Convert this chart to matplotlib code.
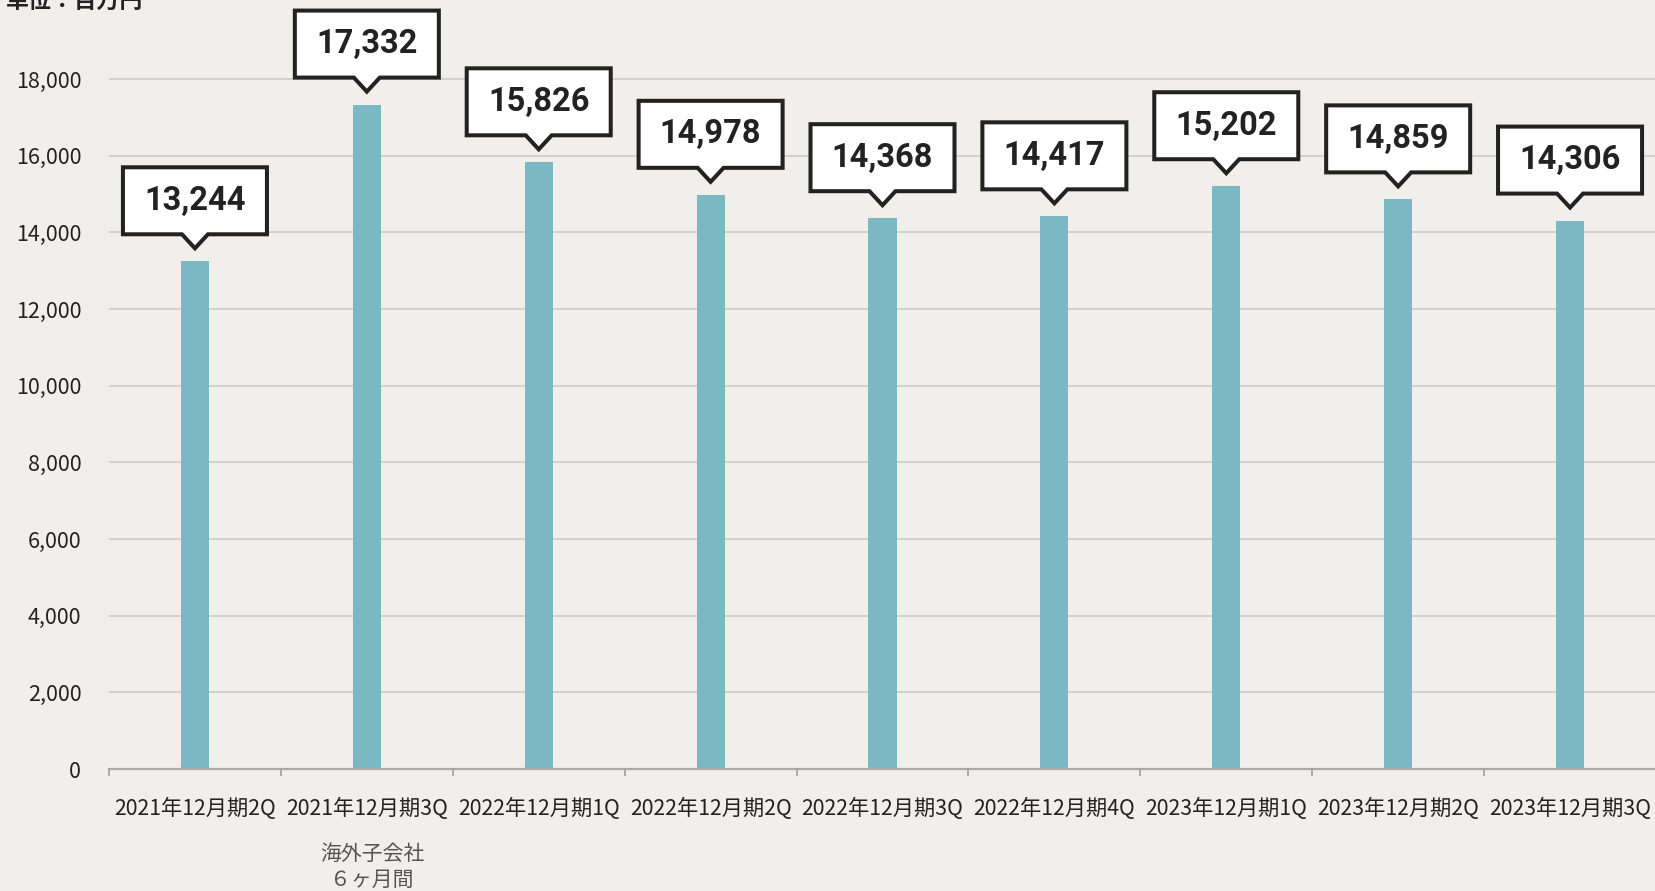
import matplotlib
matplotlib.use("Agg")
import matplotlib.pyplot as plt
from matplotlib.path import Path
from matplotlib.patches import PathPatch
import matplotlib.transforms as mtransforms

categories = ["2021年12月期2Q", "2021年12月期3Q", "2022年12月期1Q", "2022年12月期2Q",
              "2022年12月期3Q", "2022年12月期4Q", "2023年12月期1Q", "2023年12月期2Q",
              "2023年12月期3Q"]
values = [13244, 17332, 15826, 14978, 14368, 14417, 15202, 14859, 14306]
yticks = [0, 2000, 4000, 6000, 8000, 10000, 12000, 14000, 16000, 18000]
unit_label = "単位：百万円"
note_label = "海外子会社\n６ヶ月間"

BG = "#f0efeb"
BAR = "#7cb7c4"
GRID = "#c9c8c4"
TXT = "#222222"
CJK = ["Noto Sans CJK JP", "DejaVu Sans"]

DPI = 100
fig = plt.figure(figsize=(16.56, 8.91), dpi=DPI, facecolor=BG)
W, H = 1656, 891
ax = fig.add_axes([109 / W, 122 / H, (1656 - 109) / W, (769 - 2.3) / H])
ax.set_facecolor(BG)
n = len(categories)
x = list(range(n))
ax.bar(x, values, width=0.163, color=BAR, zorder=3)

ax.set_xlim(-0.5, n - 0.5)
ax.set_ylim(0, 20000)
ax.set_yticks(yticks)
ax.set_yticklabels([f"{v:,}" for v in yticks], fontsize=15.5, color=TXT, family=CJK)
ax.tick_params(axis="y", length=0, pad=20)
ax.yaxis.grid(True, color=GRID, linewidth=1.1, zorder=0)
ax.set_axisbelow(True)

ax.set_xticks([i - 0.5 for i in range(n + 1)])
ax.set_xticklabels([])
ax.set_xticks(x, minor=True)
ax.set_xticklabels(categories, minor=True, fontsize=15.3, color=TXT, family=CJK)
ax.tick_params(axis="x", which="major", length=5, width=1.4, color="#aaaaaa")
ax.tick_params(axis="x", which="minor", length=0, pad=21)

for s in ["top", "right", "left"]:
    ax.spines[s].set_visible(False)
ax.spines["bottom"].set_color("#aaaaaa")
ax.spines["bottom"].set_linewidth(1.6)
ax.spines["bottom"].set_zorder(4)

# callout boxes
hw, nb, tip, bot, top = 72, 13, 13, 27, 94
verts = [(-hw, bot), (-nb, bot), (0, tip), (nb, bot), (hw, bot), (hw, top), (-hw, top), (-hw, bot)]
codes = [Path.MOVETO] + [Path.LINETO] * 6 + [Path.CLOSEPOLY]
path = Path(verts, codes)
for xi, v in zip(x, values):
    trans = (mtransforms.Affine2D().scale(1.0 / DPI) + fig.dpi_scale_trans
             + mtransforms.ScaledTranslation(xi, v, ax.transData))
    patch = PathPatch(path, transform=trans, facecolor="white", edgecolor=TXT,
                      linewidth=2.9, joinstyle="miter", zorder=5, clip_on=False)
    ax.add_artist(patch)
    ax.annotate(f"{v:,}", xy=(xi, v), xytext=(0, (bot + top) / 2), textcoords="offset pixels",
                ha="center", va="center", fontsize=23.5, fontweight="bold", color=TXT,
                family=["Roboto", "DejaVu Sans"], zorder=6, annotation_clip=False)

ax.text(1.03, -0.096, note_label, transform=mtransforms.blended_transform_factory(ax.transData, ax.transAxes),
        ha="center", va="top", fontsize=15, color="#555555", family=CJK, linespacing=1.25)

fig.text(6 / W, 1 - 1 / H, unit_label, ha="left", va="center", fontsize=16.5, fontweight="bold",
         color=TXT, family=CJK)

fig.savefig("out.png", dpi=DPI, facecolor=BG)
